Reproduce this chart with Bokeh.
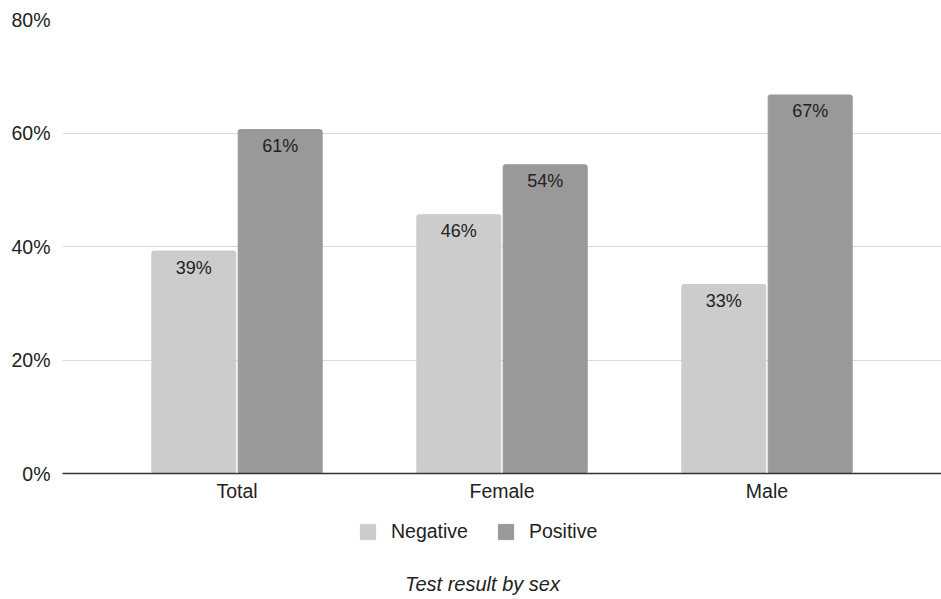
from bokeh.plotting import figure
from bokeh.layouts import column
from bokeh.models import (ColumnDataSource, FactorRange, Range1d, FixedTicker,
                          PrintfTickFormatter, Legend, LegendItem, Label, LabelSet)
from bokeh.core.properties import value
from bokeh.transform import dodge
from bokeh.embed import file_html
from bokeh.resources import INLINE

categories = ["Total", "Female", "Male"]
negative = [39.2, 45.6, 33.3]
positive = [60.6, 54.4, 66.7]
series_names = ["Negative", "Positive"]
y_ticks = [0, 20, 40, 60, 80]
chart_title = "Test result by sex"

FONT = "Liberation Sans"
TEXT = "#222222"
NEG_COLOR = "#cccccc"
POS_COLOR = "#999999"
FS = "19.5px"

src = ColumnDataSource(dict(
    cat=categories,
    neg=negative,
    pos=positive,
    neg_lbl=[f"{round(v)}%" for v in negative],
    pos_lbl=[f"{round(v)}%" for v in positive],
))

# ---------------- main chart ----------------
p = figure(
    x_range=FactorRange(*categories, range_padding=0.1585, range_padding_units="absolute"),
    y_range=Range1d(0, 80),
    width=941, height=513,
    output_backend="svg", toolbar_location=None,
    min_border_left=62, min_border_right=0, min_border_top=19, min_border_bottom=40,
)
p.outline_line_color = None

off = 0.163
bw = 0.317
r_neg = p.vbar(x=dodge("cat", -off, range=p.x_range), top="neg", width=bw, source=src,
               fill_color=NEG_COLOR, line_color=NEG_COLOR, border_radius=2)
r_pos = p.vbar(x=dodge("cat", off, range=p.x_range), top="pos", width=bw, source=src,
               fill_color=POS_COLOR, line_color=POS_COLOR, border_radius=2)

for col, lbl, d in (("neg", "neg_lbl", -off), ("pos", "pos_lbl", off)):
    p.add_layout(LabelSet(x=dodge("cat", d, range=p.x_range), y=col, text=lbl, source=src,
                          text_align="center", text_baseline="top", y_offset=-6.5,
                          text_font=value(FONT), text_font_size="18px", text_color=TEXT))

p.yaxis.ticker = FixedTicker(ticks=y_ticks)
p.yaxis.formatter = PrintfTickFormatter(format="%d%%")
p.yaxis.axis_line_color = None
p.yaxis.major_tick_line_color = None
p.yaxis.minor_tick_line_color = None
p.yaxis.major_label_standoff = 6
p.yaxis.major_label_text_font = FONT
p.yaxis.major_label_text_font_size = FS
p.yaxis.major_label_text_color = TEXT

p.xaxis.axis_line_color = "#333333"
p.xaxis.axis_line_width = 1.5
p.xaxis.major_tick_line_color = None
p.xaxis.minor_tick_line_color = None
p.xaxis.major_label_standoff = 0
p.xaxis.major_label_text_font = FONT
p.xaxis.major_label_text_font_size = FS
p.xaxis.major_label_text_color = TEXT

p.xgrid.grid_line_color = None
p.ygrid.grid_line_color = "#d9d9d9"
p.ygrid.grid_line_width = 1
p.ygrid.ticker = FixedTicker(ticks=y_ticks)

# ---------------- legend + caption strip ----------------
# (the column aligns this strip's frame with the chart's frame, which starts 62px in)
q = figure(
    x_range=FactorRange(*categories), y_range=Range1d(100, 101),
    width=941, height=86,
    x_axis_location=None, y_axis_location=None,
    output_backend="svg", toolbar_location=None,
    min_border_left=0, min_border_right=0, min_border_top=0, min_border_bottom=0,
)
q.grid.visible = False
q.outline_line_color = None
# same series, drawn outside this strip's visible range; they only supply legend swatches
g_neg = q.vbar(x="cat", top="neg", width=bw, source=src, fill_color=NEG_COLOR, line_color=NEG_COLOR)
g_pos = q.vbar(x="cat", top="pos", width=bw, source=src, fill_color=POS_COLOR, line_color=POS_COLOR)

legend = Legend(
    items=[LegendItem(label=series_names[0], renderers=[g_neg]),
           LegendItem(label=series_names[1], renderers=[g_pos])],
    orientation="horizontal",
    location=(296, 56),
    glyph_width=19, glyph_height=19,
    label_standoff=14, spacing=28, padding=2, margin=0,
    border_line_color=None, background_fill_alpha=0,
    label_text_font=FONT, label_text_font_size=FS, label_text_color=TEXT,
)
q.add_layout(legend, "center")

q.add_layout(Label(x=420, y=16, x_units="screen", y_units="screen", text=chart_title,
                   text_align="center", text_baseline="middle",
                   text_font=FONT, text_font_size="20px", text_font_style="italic",
                   text_color=TEXT))

layout = column(p, q, spacing=0)
open("out.html", "w").write(file_html(layout, INLINE))
